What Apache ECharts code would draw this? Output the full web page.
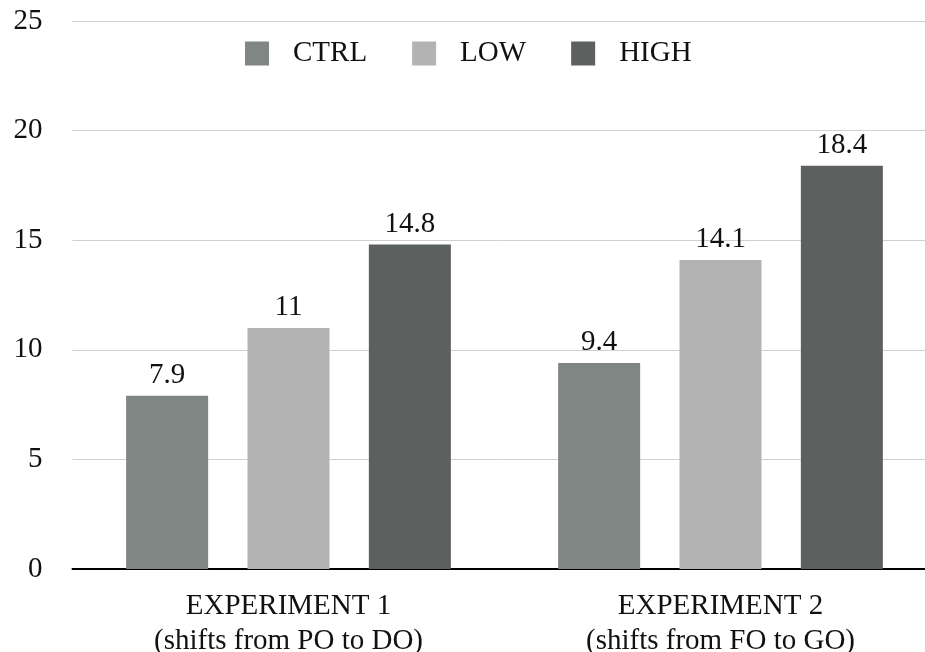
<!DOCTYPE html>
<html>
<head>
<meta charset="utf-8">
<script src="https://cdn.jsdelivr.net/npm/echarts@6/dist/echarts.min.js"></script>
<style>html,body{margin:0;padding:0;background:#fff}#c{width:925px;height:652px}</style>
</head>
<body>
<div id="c"></div>
<script>
const categories = ['EXPERIMENT 1\n(shifts from PO to DO)', 'EXPERIMENT 2\n(shifts from FO to GO)'];
const seriesNames = ['CTRL', 'LOW', 'HIGH'];
const ctrlValues = [7.9, 9.4];
const lowValues = [11, 14.1];
const highValues = [14.8, 18.4];
const colors = ['#808683', '#b3b3b3', '#5c605f'];
const FONT = '"Liberation Serif", serif';

const chart = echarts.init(document.getElementById('c'), null, {renderer: 'canvas'});
const mk = (name, data, color) => ({
  name, type: 'bar', data, barWidth: 82, barGap: '48%',
  itemStyle: {color},
  label: {show: true, position: 'top', distance: 6, color: '#111', fontFamily: FONT, fontSize: 29}
});
chart.setOption({
  animation: false,
  textStyle: {fontFamily: FONT},
  color: colors,
  legend: {
    left: 245, top: 39, padding: 0, itemWidth: 24, itemHeight: 24, itemGap: 45,
    icon: 'rect',
    textStyle: {fontFamily: FONT, fontSize: 29, color: '#111', padding: [0, 0, 0, 19]},
    data: seriesNames
  },
  grid: {left: 72.5, top: 21, width: 864, height: 548, containLabel: false, outerBoundsMode: 'none'},
  xAxis: {
    type: 'category', data: categories,
    axisLine: {lineStyle: {color: '#000', width: 2}},
    axisTick: {show: false},
    axisLabel: {fontFamily: FONT, fontSize: 29, color: '#111', margin: 20, lineHeight: 35}
  },
  yAxis: {
    type: 'value', min: 0, max: 25, interval: 5,
    axisLine: {show: false}, axisTick: {show: false},
    splitLine: {lineStyle: {color: '#d0d0d0', width: 1}},
    axisLabel: {fontFamily: FONT, fontSize: 29, color: '#111', margin: 30}
  },
  series: [mk(seriesNames[0], ctrlValues, colors[0]), mk(seriesNames[1], lowValues, colors[1]), mk(seriesNames[2], highValues, colors[2])]
});
</script>
</body>
</html>
